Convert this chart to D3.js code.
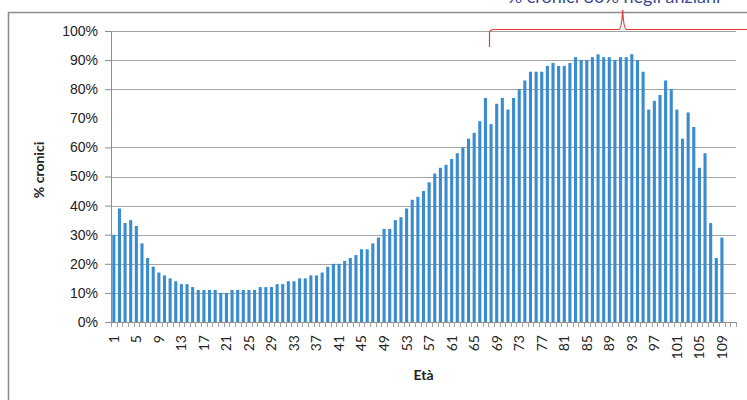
<!DOCTYPE html>
<html>
<head>
<meta charset="utf-8">
<script src="https://cdn.jsdelivr.net/npm/d3@7"></script>
<style>
  body { margin: 0; background: #fff; }
  svg { display: block; }
</style>
</head>
<body>
<div id="chart"></div>
<script>
// Età 1..111 (l'asse arriva a 111, gli ultimi due senza dati)
const ages = d3.range(1, 112);

// % cronici per età
const pctCronici = [
  30, 39, 34, 35, 33, 27, 22, 19, 17, 16,   // 1-10
  15, 14, 13, 13, 12, 11, 11, 11, 11, 10,   // 11-20
  10, 11, 11, 11, 11, 11, 12, 12, 12, 13,   // 21-30
  13, 14, 14, 15, 15, 16, 16, 17, 19, 20,   // 31-40
  20, 21, 22, 23, 25, 25, 27, 29, 32, 32,   // 41-50
  35, 36, 39, 42, 43, 45, 48, 51, 53, 54,   // 51-60
  56, 58, 60, 63, 65, 69, 77, 68, 75, 77,   // 61-70
  73, 77, 80, 83, 86, 86, 86, 88, 89, 88,   // 71-80
  88, 89, 91, 90, 90, 91, 92, 91, 91, 90,   // 81-90
  91, 91, 92, 90, 86, 73, 76, 78, 83, 80,   // 91-100
  73, 63, 72, 67, 53, 58, 34, 22, 29, null, null // 101-111
];

// etichette mostrate sull'asse x (una ogni 4)
const xTickLabels = [1, 5, 9, 13, 17, 21, 25, 29, 33, 37, 41, 45, 49, 53, 57,
  61, 65, 69, 73, 77, 81, 85, 89, 93, 97, 101, 105, 109];
const yTicks = [0, 0.1, 0.2, 0.3, 0.4, 0.5, 0.6, 0.7, 0.8, 0.9, 1];

const data = ages.map((a, i) => ({ age: a, value: pctCronici[i] }));

function drawChart() {
  const W = 747, H = 400;
  const margin = { top: 31, right: 11, bottom: 78, left: 111 };
  const width = W - margin.left - margin.right,
        height = H - margin.top - margin.bottom;

  const svg = d3.select("#chart").append("svg")
    .attr("width", W)
    .attr("height", H)
    .style("font-family", "Lato, 'Open Sans', sans-serif");

  svg.append("rect").attr("width", W).attr("height", H).attr("fill", "#fff");

  // cornice esterna (tagliata a destra e in basso)
  svg.append("rect")
    .attr("x", 8.5).attr("y", 12.5)
    .attr("width", W + 10).attr("height", H + 10)
    .attr("fill", "none")
    .attr("stroke", "#8c8c8c")
    .attr("stroke-width", 1.5);

  const g = svg.append("g").attr("transform", `translate(${margin.left},${margin.top})`);

  const x = d3.scaleBand()
    .domain(ages)
    .range([0, width])
    .paddingInner(0.45)
    .paddingOuter(0.225);

  const y = d3.scaleLinear().domain([0, 1]).range([height, 0]);

  // griglia
  g.append("g")
    .selectAll("line")
    .data(yTicks.filter(t => t > 0 && Math.abs(t - 0.7) > 1e-6))
    .join("line")
    .attr("x1", 0).attr("x2", width)
    .attr("y1", d => Math.round(y(d)) + 0.5)
    .attr("y2", d => Math.round(y(d)) + 0.5)
    .attr("stroke", "#a3a3a3");

  // asse y
  const yAxis = g.append("g")
    .call(d3.axisLeft(y).tickValues(yTicks).tickFormat(d3.format(".0%")).tickSize(6).tickPadding(7));
  yAxis.select(".domain").attr("stroke", "#8c8c8c");
  yAxis.selectAll(".tick line").attr("stroke", "#8c8c8c")
    .attr("opacity", d => Math.abs(d - 0.7) < 1e-6 ? 0 : 1);
  yAxis.selectAll("text")
    .style("font-size", "14px")
    .attr("fill", "#222");

  // barre
  g.selectAll("rect.bar")
    .data(data.filter(d => d.value != null))
    .join("rect")
    .attr("class", "bar")
    .attr("x", d => x(d.age))
    .attr("y", d => y(d.value / 100))
    .attr("width", x.bandwidth())
    .attr("height", d => height - y(d.value / 100))
    .attr("fill", "#3a8cd0");

  // asse x: linea e tacche ai confini delle categorie
  const step = x.step();
  const xg = g.append("g").attr("transform", `translate(0,${height})`);
  xg.append("line")
    .attr("x1", 0).attr("x2", width)
    .attr("y1", 0.5).attr("y2", 0.5)
    .attr("stroke", "#8c8c8c");
  xg.selectAll("line.tk")
    .data(ages.concat([ages.length + 1]))
    .join("line")
    .attr("class", "tk")
    .attr("x1", (d, i) => Math.round(i * step) + 0.5)
    .attr("x2", (d, i) => Math.round(i * step) + 0.5)
    .attr("y1", 0).attr("y2", 5)
    .attr("stroke", "#a0a0a0");

  // etichette età (ruotate)
  xg.selectAll("text.lbl")
    .data(xTickLabels)
    .join("text")
    .attr("class", "lbl")
    .attr("transform", d => `translate(${x(d) + x.bandwidth() / 2},13) rotate(-90)`)
    .attr("text-anchor", "end")
    .attr("dy", "0.35em")
    .style("font-size", "14px")
    .attr("fill", "#222")
    .text(d => d);

  // titolo asse y
  svg.append("text")
    .attr("transform", "translate(44,170) rotate(-90)")
    .attr("text-anchor", "middle")
    .style("font-size", "14px")
    .style("font-weight", "bold")
    .attr("fill", "#222")
    .text("% cronici");

  // titolo asse x
  svg.append("text")
    .attr("x", margin.left + width / 2)
    .attr("y", 380)
    .attr("text-anchor", "middle")
    .style("font-size", "14px")
    .style("font-weight", "bold")
    .attr("fill", "#222")
    .text("Età");

  // graffa rossa e nota in alto
  const bx0 = Math.round(margin.left + x(68)) - 0.5, bxm = margin.left + x(92) - 2;
  svg.append("path")
    .attr("d", `M${bx0},47 L${bx0},34 Q${bx0},29.5 ${bx0 + 4},29.5 L${bxm - 4},29.5 Q${bxm - 1},29.5 ${bxm},10 Q${bxm + 1},29.5 ${bxm + 4},29.5 L${W},29.5`)
    .attr("fill", "none")
    .attr("stroke", "#e23a3a")
    .attr("stroke-width", 1.2);

  svg.append("text")
    .attr("x", 614)
    .attr("y", 3)
    .attr("text-anchor", "middle")
    .style("font-size", "18px")
    .attr("fill", "#3b4a8c")
    .text("% cronici 80% negli anziani");
}

drawChart();
</script>
</body>
</html>
